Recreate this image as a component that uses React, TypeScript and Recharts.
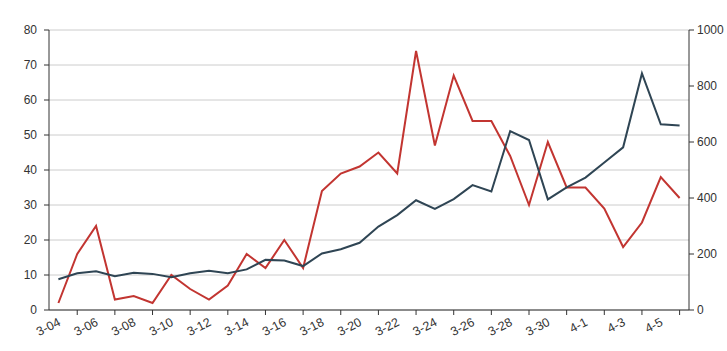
import React from 'react';
import { LineChart, Line, XAxis, YAxis, CartesianGrid } from 'recharts';

const categories = [
  '3-04', '3-05', '3-06', '3-07', '3-08', '3-09', '3-10', '3-11', '3-12', '3-13',
  '3-14', '3-15', '3-16', '3-17', '3-18', '3-19', '3-20', '3-21', '3-22', '3-23',
  '3-24', '3-25', '3-26', '3-27', '3-28', '3-29', '3-30', '3-31', '4-1', '4-2',
  '4-3', '4-4', '4-5', '4-6',
];

const redSeries = [
  2, 16, 24, 3, 4, 2, 10, 6, 3, 7,
  16, 12, 20, 12, 34, 39, 41, 45, 39, 74,
  47, 67, 54, 54, 44, 30, 48, 35, 35, 29,
  18, 25, 38, 32,
];

const darkSeries = [
  110, 131, 138, 121, 133, 129, 117, 131, 140, 131,
  145, 179, 177, 157, 202, 217, 240, 298, 339, 392,
  361, 396, 446, 423, 639, 607, 395, 438, 473, 527,
  581, 845, 663, 659,
];

const leftTicks = [0, 10, 20, 30, 40, 50, 60, 70, 80];
const rightTicks = [0, 200, 400, 600, 800, 1000];

const data = categories.map((c, i) => ({ name: c, red: redSeries[i], dark: darkSeries[i] }));

const FONT = '"Liberation Sans", Arial, Helvetica, sans-serif';

const XTick = (props: any) => {
  const { x, y, payload, index } = props;
  const i = typeof index === 'number' ? index : payload.index;
  if (i % 2 === 1) {
    return <line x1={x} y1={y} x2={x} y2={y + 5} stroke="#333" strokeWidth={1} />;
  }
  const ay = y + 11;
  return (
    <text
      x={x + 1}
      y={ay}
      dy="0.35em"
      textAnchor="end"
      fontSize={12.5}
      fontFamily={FONT}
      fill="#333"
      transform={`rotate(-27, ${x + 1}, ${ay})`}
    >
      {payload.value}
    </text>
  );
};

export default function App() {
  return (
    <div style={{ position: 'absolute', left: 0, top: 0 }}>
      <LineChart width={727} height={351} data={data} margin={{ top: 30, right: 0, bottom: 0, left: 0 }}>
        <CartesianGrid yAxisId="left" vertical={false} stroke="#ccc" />
        <XAxis
          dataKey="name"
          interval={0}
          padding={{ left: 9.4, right: 9.4 }}
          height={41}
          tickSize={0}
          tickMargin={0}
          tickLine={false}
          tick={<XTick />}
          axisLine={{ stroke: '#333' }}
        />
        <YAxis
          yAxisId="left"
          orientation="left"
          width={49}
          domain={[0, 80]}
          ticks={leftTicks}
          tickSize={5}
          tickMargin={7}
          axisLine={{ stroke: '#333' }}
          tickLine={{ stroke: '#333' }}
          tick={{ fill: '#333', fontSize: 12, fontFamily: FONT }}
        />
        <YAxis
          yAxisId="right"
          orientation="right"
          width={38}
          domain={[0, 1000]}
          ticks={rightTicks}
          tickSize={5}
          tickMargin={3}
          axisLine={{ stroke: '#333' }}
          tickLine={{ stroke: '#333' }}
          tick={{ fill: '#333', fontSize: 12, fontFamily: FONT }}
        />
        <Line
          yAxisId="left"
          dataKey="red"
          stroke="#c23531"
          strokeWidth={2}
          dot={false}
          isAnimationActive={false}
        />
        <Line
          yAxisId="right"
          dataKey="dark"
          stroke="#2f4554"
          strokeWidth={2}
          dot={false}
          isAnimationActive={false}
        />
      </LineChart>
    </div>
  );
}
